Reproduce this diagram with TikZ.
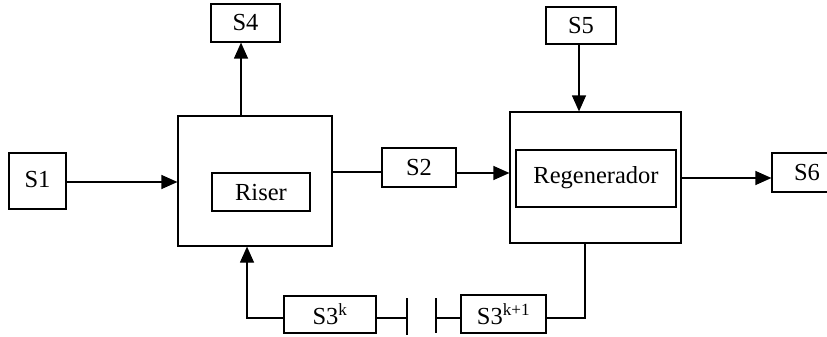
\documentclass[tikz,border=0pt]{standalone}
\usepackage{fontspec}
\setmainfont{Liberation Serif}
\usetikzlibrary{arrows.meta}
\begin{document}
\begin{tikzpicture}[x=1pt,y=-1pt,
  box/.style={draw, line width=1.2pt, inner sep=0pt, font=\fontsize{24.5}{28}\selectfont},
  conn/.style={line width=1.2pt},
  arr/.style={line width=1.2pt, -{Triangle[length=16pt,width=14pt]}}]
\useasboundingbox (0,0) rectangle (827,337);
% boxes
\node[box, minimum width=57pt, minimum height=56pt, text depth=4pt] (s1) at (37.5,181) {S1};
\node[box, minimum width=69pt, minimum height=38pt] (s4) at (245.5,23) {S4};
\node[box, minimum width=154pt, minimum height=130pt] (riser) at (255,181) {};
\node[box, minimum width=98pt, minimum height=38pt, text depth=0pt] (riserin) at (261,192) {Riser};
\node[box, minimum width=74pt, minimum height=39pt] (s2) at (419,167.5) {S2};
\node[box, minimum width=70pt, minimum height=37pt] (s5) at (581,25.5) {S5};
\node[box, minimum width=171pt, minimum height=131pt] (regen) at (595.5,177.5) {};
\node[box, minimum width=160pt, minimum height=57pt, text depth=8pt] (regenin) at (596,178.5) {Regenerador};
\node[box, minimum width=70pt, minimum height=39pt, text depth=1pt] (s6) at (807,172.5) {S6\hspace{24pt}};
\node[box, minimum width=92pt, minimum height=37pt] (s3k) at (330,314.5) {S3\textsuperscript{k}};
\node[box, minimum width=85pt, minimum height=38pt] (s3k1) at (503.5,314) {S3\textsuperscript{k+1}};
% break bars
\coordinate (b1) at (407,318);
\coordinate (b2) at (436,318);
\draw[conn] (407,298) -- (407,335);
\draw[conn] (436,298) -- (436,333);
% connectors
\draw[arr] (s1.east |- 0,182) -- (riser.west |- 0,182);
\draw[arr] (riser.north -| 241,0) -- (s4.south -| 241,0);
\draw[conn] (riser.east |- 0,172) -- (s2.west |- 0,172);
\draw[arr] (s2.east |- 0,173) -- (regen.west |- 0,173);
\draw[arr] (s5.south -| 579,0) -- (regen.north -| 579,0);
\draw[arr] (regen.east |- 0,178) -- (s6.west |- 0,178);
\draw[conn] (regen.south -| 585,0) |- (s3k1.east |- 0,318);
\draw[conn] (s3k1.west |- 0,318) -- (b2);
\draw[conn] (s3k.east |- 0,318) -- (b1);
\draw[arr] (s3k.west |- 0,318) -| (riser.south -| 247,0);
\end{tikzpicture}
\end{document}
